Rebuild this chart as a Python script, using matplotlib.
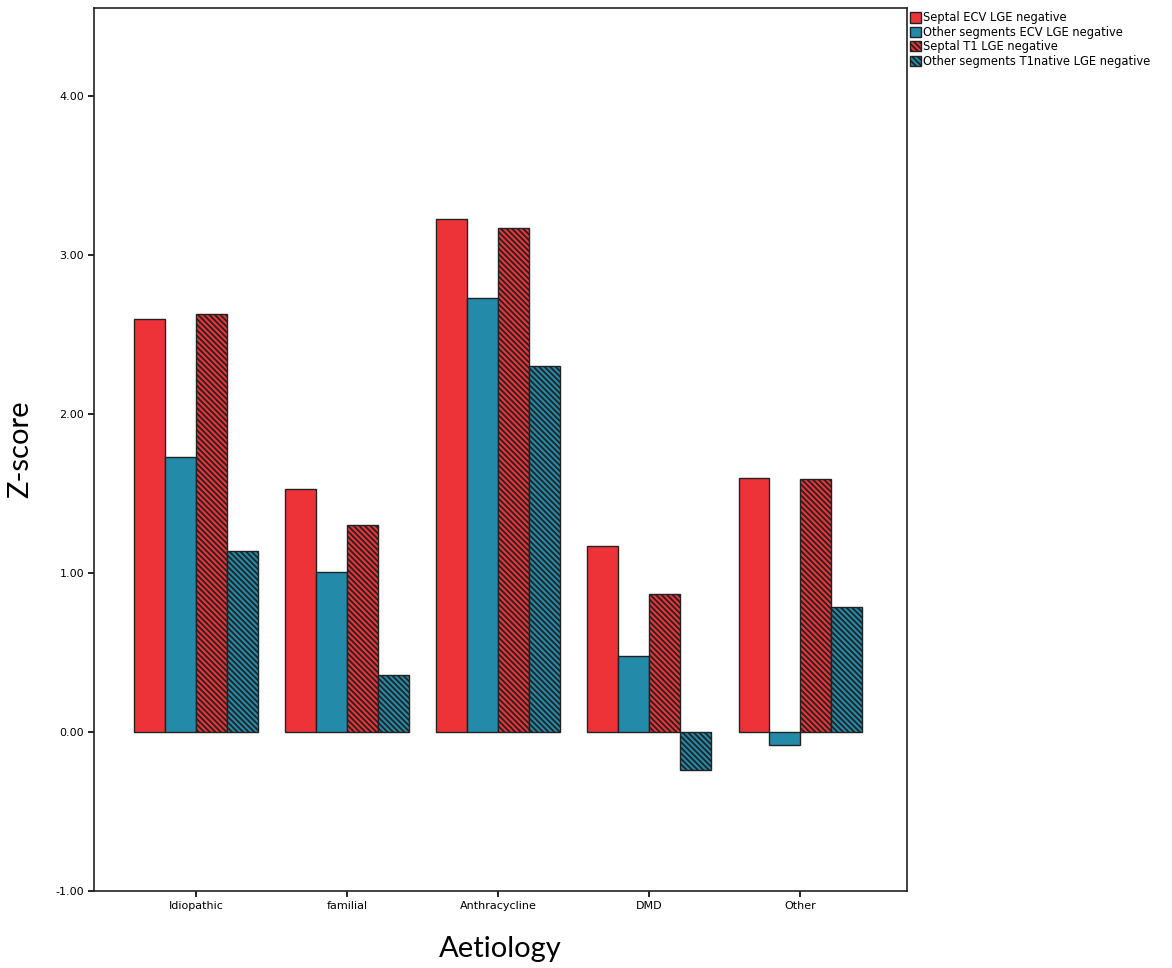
import matplotlib
matplotlib.use("Agg")
import matplotlib.pyplot as plt
import numpy as np
from matplotlib.patches import Patch

categories = ["Idiopathic", "familial", "Anthracycline", "DMD", "Other"]
septal_ecv = [2.60, 1.53, 3.23, 1.17, 1.60]
other_ecv = [1.73, 1.01, 2.73, 0.48, -0.08]
septal_t1 = [2.63, 1.30, 3.17, 0.87, 1.59]
other_t1 = [1.14, 0.36, 2.30, -0.24, 0.79]
series_names = [
    "Septal ECV LGE negative",
    "Other segments ECV LGE negative",
    "Septal T1 LGE negative",
    "Other segments T1native LGE negative",
]

RED = "#ee3338"
BLUE = "#238aaa"
plt.rcParams["hatch.linewidth"] = 1.3

fig = plt.figure(figsize=(11.72, 9.68), dpi=100)
ax = fig.add_axes([0.0802, 0.0795, 0.6937, 0.9122])

x = np.arange(len(categories))
w = 0.205
styles = [(RED, None), (BLUE, None), (RED, "\\" * 6), (BLUE, "\\" * 6)]
for i, (vals, (col, hatch)) in enumerate(zip([septal_ecv, other_ecv, septal_t1, other_t1], styles)):
    ax.bar(x + (i - 1.5) * w, vals, w, color=col, edgecolor="#222222",
           linewidth=1.0, hatch=hatch)

ax.set_xlim(-0.675, 4.705)
ax.set_ylim(-1.0, 4.555)
ax.set_yticks([-1, 0, 1, 2, 3, 4])
ax.set_yticklabels([f"{v:.2f}" for v in [-1, 0, 1, 2, 3, 4]])
ax.set_xticks(x)
ax.set_xticklabels(categories)
ax.tick_params(labelsize=8, length=4, width=1.2, pad=3)
for s in ax.spines.values():
    s.set_linewidth(1.2)
    s.set_color("#222222")

ax.set_ylabel("Z-score", fontsize=21, family="Lato", labelpad=16)
ax.set_xlabel("Aetiology", fontsize=21, family="Lato", labelpad=18)

handles = [Patch(facecolor=c, edgecolor="#222222", hatch=h) for c, h in styles]
ax.legend(handles, series_names, loc="upper left", bbox_to_anchor=(1.0, 1.0),
          frameon=False, fontsize=8.3, handlelength=0.9, handleheight=1.0,
          handletextpad=0.2, labelspacing=0.12, borderaxespad=0.2, borderpad=0.1)

fig.savefig("out.png", dpi=100)
